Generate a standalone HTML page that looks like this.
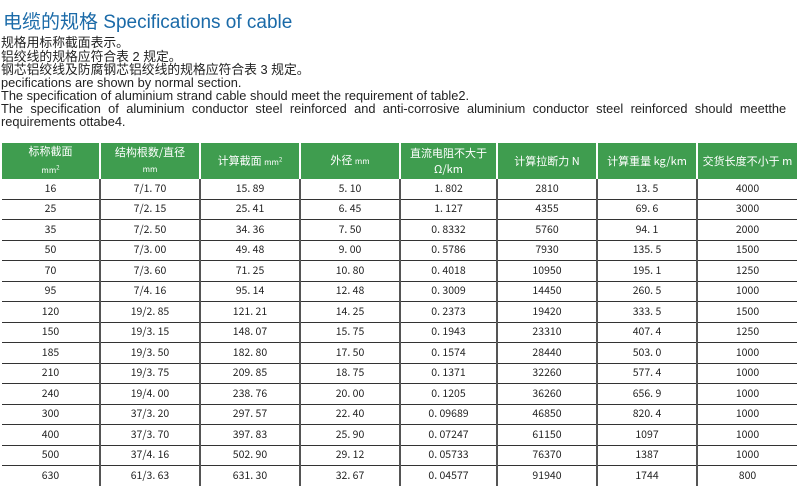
<!DOCTYPE html>
<html><head><meta charset="utf-8"><style>
body{margin:0;width:800px;height:490px;overflow:hidden;background:#fff;font-family:"Liberation Sans","Noto Sans CJK SC",sans-serif;position:relative}
.t{position:absolute;left:3px;top:7px;font-size:19px;color:#1a6aa8;white-space:nowrap}
.p{position:absolute;left:1px;font-size:12.8px;line-height:13px;color:#222;white-space:nowrap}
table{position:absolute;left:2px;top:143px;border-collapse:collapse;table-layout:fixed;font-family:"Noto Sans CJK SC","WenQuanYi Zen Hei",sans-serif}
td,th{text-align:center;padding:0;font-size:10.5px;color:#222;font-weight:normal;border-left:2px solid #555;border-bottom:1px solid #333;height:19.5px;line-height:12px;white-space:pre}
th{background:#3f9d4f;color:#fff;height:36px;border-left:2px solid #fff;border-bottom:none;font-size:11px;line-height:16px;white-space:normal}
tr td:first-child,tr th:first-child{border-left:none}
sup{font-size:6px}
.s{font-size:8px}
</style></head><body>
<div class="t">电缆的规格 Specifications of cable</div>
<div class="p" style="top:36px">规格用标称截面表示。</div>
<div class="p" style="top:50px">铝绞线的规格应符合表 2 规定。</div>
<div class="p" style="top:63px">钢芯铝绞线及防腐钢芯铝绞线的规格应符合表 3 规定。</div>
<div class="p" style="top:76px">pecifications are shown by normal section.</div>
<div class="p" style="top:89px">The specification of aluminium strand cable should meet the requirement of table2.</div>
<div class="p" style="top:102px;word-spacing:3.8px">The specification of aluminium conductor steel reinforced and anti-corrosive aluminium conductor steel reinforced should meetthe</div>
<div class="p" style="top:115px">requirements ottabe4.</div>
<table>
<colgroup><col style="width:98px"><col style="width:100px"><col style="width:100px"><col style="width:100px"><col style="width:97px"><col style="width:100px"><col style="width:100px"><col style="width:100px"></colgroup>
<tr><th>标称截面<br><span class="s">mm<sup>2</sup></span></th><th>结构根数/直径<br><span class="s">mm</span></th><th>计算截面 <span class="s">mm<sup>2</sup></span></th><th>外径 <span class="s">mm</span></th><th>直流电阻不大于<br>Ω/km</th><th>计算拉断力 N</th><th>计算重量 kg/km</th><th>交货长度不小于 m</th></tr>
<tr><td>16</td><td>7/1. 70</td><td>15. 89</td><td>5. 10</td><td>1. 802</td><td>2810</td><td>13. 5</td><td>4000</td></tr>
<tr><td>25</td><td>7/2. 15</td><td>25. 41</td><td>6. 45</td><td>1. 127</td><td>4355</td><td>69. 6</td><td>3000</td></tr>
<tr><td>35</td><td>7/2. 50</td><td>34. 36</td><td>7. 50</td><td>0. 8332</td><td>5760</td><td>94. 1</td><td>2000</td></tr>
<tr><td>50</td><td>7/3. 00</td><td>49. 48</td><td>9. 00</td><td>0. 5786</td><td>7930</td><td>135. 5</td><td>1500</td></tr>
<tr><td>70</td><td>7/3. 60</td><td>71. 25</td><td>10. 80</td><td>0. 4018</td><td>10950</td><td>195. 1</td><td>1250</td></tr>
<tr><td>95</td><td>7/4. 16</td><td>95. 14</td><td>12. 48</td><td>0. 3009</td><td>14450</td><td>260. 5</td><td>1000</td></tr>
<tr><td>120</td><td>19/2. 85</td><td>121. 21</td><td>14. 25</td><td>0. 2373</td><td>19420</td><td>333. 5</td><td>1500</td></tr>
<tr><td>150</td><td>19/3. 15</td><td>148. 07</td><td>15. 75</td><td>0. 1943</td><td>23310</td><td>407. 4</td><td>1250</td></tr>
<tr><td>185</td><td>19/3. 50</td><td>182. 80</td><td>17. 50</td><td>0. 1574</td><td>28440</td><td>503. 0</td><td>1000</td></tr>
<tr><td>210</td><td>19/3. 75</td><td>209. 85</td><td>18. 75</td><td>0. 1371</td><td>32260</td><td>577. 4</td><td>1000</td></tr>
<tr><td>240</td><td>19/4. 00</td><td>238. 76</td><td>20. 00</td><td>0. 1205</td><td>36260</td><td>656. 9</td><td>1000</td></tr>
<tr><td>300</td><td>37/3. 20</td><td>297. 57</td><td>22. 40</td><td>0. 09689</td><td>46850</td><td>820. 4</td><td>1000</td></tr>
<tr><td>400</td><td>37/3. 70</td><td>397. 83</td><td>25. 90</td><td>0. 07247</td><td>61150</td><td>1097</td><td>1000</td></tr>
<tr><td>500</td><td>37/4. 16</td><td>502. 90</td><td>29. 12</td><td>0. 05733</td><td>76370</td><td>1387</td><td>1000</td></tr>
<tr><td style="border-bottom:none">630</td><td style="border-bottom:none">61/3. 63</td><td style="border-bottom:none">631. 30</td><td style="border-bottom:none">32. 67</td><td style="border-bottom:none">0. 04577</td><td style="border-bottom:none">91940</td><td style="border-bottom:none">1744</td><td style="border-bottom:none">800</td></tr>
</table>
</body></html>
